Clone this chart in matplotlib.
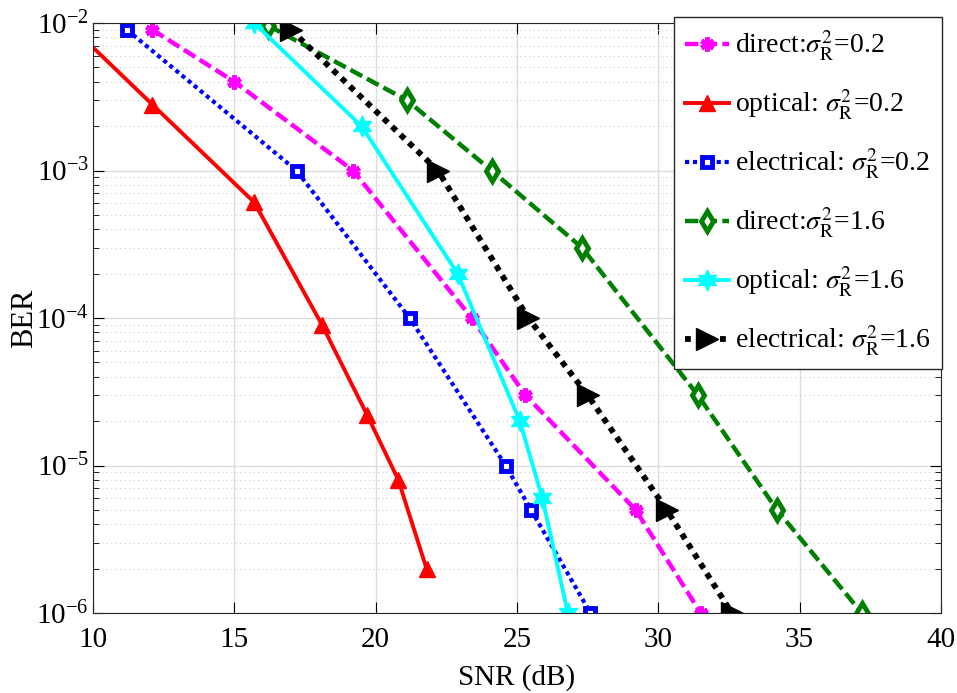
import matplotlib
matplotlib.use("Agg")
import matplotlib.pyplot as plt
from matplotlib.ticker import LogLocator, NullFormatter

plt.rcParams['font.family'] = ['Liberation Serif', 'DejaVu Serif']
plt.rcParams['mathtext.fontset'] = 'stix'

# direct, sigma_R^2 = 0.2
snr_d02 = [12.1, 15.0, 19.2, 23.4, 25.3, 29.2, 31.5]
ber_d02 = [9e-3, 4e-3, 1e-3, 1e-4, 3e-5, 5e-6, 1e-6]
# optical, sigma_R^2 = 0.2 (first point lies left of the axis)
snr_o02 = [9.1, 12.1, 15.7, 18.1, 19.7, 20.8, 21.8]
ber_o02 = [1e-2, 2.8e-3, 6.1e-4, 9e-5, 2.2e-5, 8e-6, 2e-6]
# electrical, sigma_R^2 = 0.2
snr_e02 = [11.2, 17.2, 21.2, 24.6, 25.5, 27.6]
ber_e02 = [9e-3, 1e-3, 1e-4, 1e-5, 5e-6, 1e-6]
# direct, sigma_R^2 = 1.6
snr_d16 = [16.2, 21.1, 24.1, 27.3, 31.4, 34.2, 37.2]
ber_d16 = [9.6e-3, 3e-3, 1e-3, 3e-4, 3e-5, 5e-6, 1e-6]
# optical, sigma_R^2 = 1.6
snr_o16 = [15.7, 19.5, 22.9, 25.1, 25.9, 26.8]
ber_o16 = [1e-2, 2e-3, 2e-4, 2e-5, 6e-6, 1e-6]
# electrical, sigma_R^2 = 1.6
snr_e16 = [17.0, 22.2, 25.4, 27.5, 30.3, 32.6]
ber_e16 = [9e-3, 1e-3, 1e-4, 3e-5, 5e-6, 1e-6]

sig = r'$\sigma_{\mathrm{R}}^{2}$'
dash = (0, (3.0, 1.2))

fig = plt.figure(figsize=(9.57, 6.93), dpi=100)
ax = fig.add_axes([0.0972, 0.1154, 0.886, 0.8514])

ax.semilogy(snr_d02, ber_d02, ls=dash, color='magenta', lw=3.2,
            marker=(6, 2, 0), ms=10, mew=3.5, label='direct:' + sig + '=0.2')
ax.semilogy(snr_o02, ber_o02, '-', color='red', lw=2.8,
            marker='^', ms=11, label='optical: ' + sig + '=0.2')
ax.semilogy(snr_e02, ber_e02, ls=(0, (1, 0.9)), color='blue', lw=3.0,
            marker='s', ms=6.5, mfc='white', mew=3.5, label='electrical: ' + sig + '=0.2')
ax.semilogy(snr_d16, ber_d16, ls=dash, color='green', lw=3.2,
            marker='d', ms=10, mfc='white', mew=3.5, label='direct:' + sig + '=1.6')
ax.semilogy(snr_o16, ber_o16, '-', color='cyan', lw=2.8,
            marker=(6, 1, 0), ms=15, label='optical: ' + sig + '=1.6')
ax.semilogy(snr_e16, ber_e16, ls=(0, (1, 1.0)), color='black', lw=4.2,
            marker='>', ms=16, label='electrical: ' + sig + '=1.6')

ax.set_xlim(10, 40)
ax.set_ylim(1e-6, 1e-2)
ax.set_xticks([10, 15, 20, 25, 30, 35, 40])
ax.yaxis.set_minor_locator(LogLocator(base=10, subs=range(2, 10)))
ax.yaxis.set_minor_formatter(NullFormatter())

ax.grid(True, which='major', color='#dddddd', lw=1.0, ls='-')
ax.grid(True, which='minor', axis='y', color='#cccccc', lw=0.8, ls=(0, (1, 3)))
ax.tick_params(which='both', direction='in', top=True, right=True, labelsize=21)
ax.tick_params(which='major', length=8)
ax.tick_params(axis='x', which='major', pad=10)
ax.tick_params(axis='y', which='major', pad=3)
ax.tick_params(which='minor', length=4)
for s in ax.spines.values():
    s.set_color('#262626')

ax.set_xlabel('SNR (dB)', fontsize=21, labelpad=8)
ax.set_ylabel('BER', fontsize=22, labelpad=-2)

leg = ax.legend(loc='upper right', bbox_to_anchor=(0.984, 0.975),
                bbox_transform=fig.transFigure, borderaxespad=0,
                fontsize=20, handlelength=1.6, handletextpad=0.2,
                labelspacing=0.9, borderpad=0.4, framealpha=1,
                fancybox=False, edgecolor='#262626')
leg.get_frame().set_linewidth(1.0)

fig.savefig('out.png', dpi=100)
